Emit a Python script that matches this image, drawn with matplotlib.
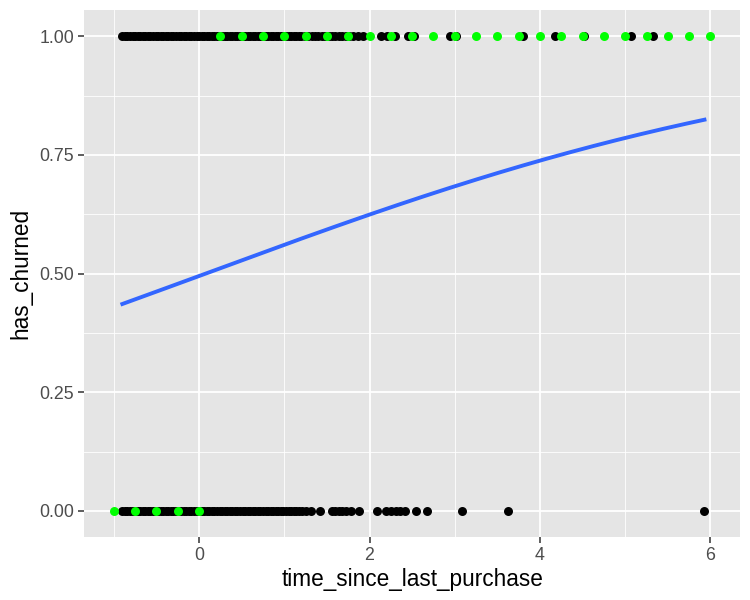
import matplotlib.pyplot as plt
import numpy as np

# observed customers, split by outcome
churned_x = [
    -0.90, -0.87, -0.84, -0.81, -0.78, -0.75, -0.72, -0.69, -0.66, -0.63,
    -0.60, -0.57, -0.54, -0.51, -0.48, -0.45, -0.42, -0.39, -0.36, -0.33,
    -0.30, -0.27, -0.24, -0.21, -0.18, -0.15, -0.12, -0.09, -0.06, -0.03,
    0.00, 0.03, 0.06, 0.09, 0.12, 0.15, 0.18, 0.21, 0.24, 0.27, 0.30,
    0.33, 0.36, 0.39, 0.42, 0.45, 0.48, 0.51, 0.54, 0.57, 0.60, 0.63,
    0.66, 0.69, 0.72, 0.75, 0.78, 0.81, 0.84, 0.87, 0.90, 0.93, 0.96,
    0.99, 1.02, 1.05, 1.08, 1.11, 1.14, 1.17, 1.20, 1.24, 1.28, 1.32,
    1.36, 1.40, 1.44, 1.48, 1.52, 1.56, 1.60, 1.64, 1.68, 1.72, 1.76,
    1.81, 1.86, 1.92, 2.13, 2.20, 2.30, 2.45, 2.52, 2.95, 3.02, 3.80,
    4.18, 4.52, 5.07, 5.33,
]
retained_x = [
    -0.90, -0.87, -0.84, -0.81, -0.78, -0.75, -0.72, -0.69, -0.66, -0.63,
    -0.60, -0.57, -0.54, -0.51, -0.48, -0.45, -0.42, -0.39, -0.36, -0.33,
    -0.30, -0.27, -0.24, -0.21, -0.18, -0.15, -0.12, -0.09, -0.06, -0.03,
    0.00, 0.03, 0.06, 0.09, 0.12, 0.15, 0.18, 0.21, 0.24, 0.27, 0.30,
    0.33, 0.36, 0.39, 0.42, 0.45, 0.48, 0.51, 0.54, 0.57, 0.60, 0.63,
    0.66, 0.69, 0.72, 0.75, 0.78, 0.81, 0.84, 0.87, 0.90, 0.93, 0.96,
    0.99, 1.02, 1.05, 1.08, 1.11, 1.14, 1.17, 1.21, 1.25, 1.31, 1.42,
    1.56, 1.60, 1.64, 1.68, 1.72, 1.78, 1.88, 2.09, 2.19, 2.25, 2.31,
    2.36, 2.42, 2.54, 2.68, 3.09, 3.63, 5.93,
]

# predicted outcome on a grid of explanatory values
grid_x = [
    -1.00, -0.75, -0.50, -0.25, 0.00, 0.25, 0.50, 0.75, 1.00, 1.25, 1.50,
    1.75, 2.00, 2.25, 2.50, 2.75, 3.00, 3.25, 3.50, 3.75, 4.00, 4.25,
    4.50, 4.75, 5.00, 5.25, 5.50, 5.75, 6.00,
]
grid_pred = [
    0, 0, 0, 0, 0, 1, 1, 1, 1, 1, 1, 1, 1, 1, 1, 1, 1, 1, 1, 1, 1, 1,
    1, 1, 1, 1, 1, 1, 1,
]

# logistic fit coefficients
intercept = -0.02
slope = 0.264

x_ticks = [0, 2, 4, 6]
y_ticks = [0.00, 0.25, 0.50, 0.75, 1.00]

plt.rcParams["font.family"] = ["Liberation Sans", "DejaVu Sans"]

fig = plt.figure(figsize=(7.5, 6), dpi=100)
ax = fig.add_axes([0.112, 0.105, 0.875, 0.878])
ax.set_facecolor("#e5e5e5")

ax.scatter(churned_x, np.ones(len(churned_x)), s=42, color="black", zorder=3, linewidths=0)
ax.scatter(retained_x, np.zeros(len(retained_x)), s=42, color="black", zorder=3, linewidths=0)

all_x = churned_x + retained_x
curve_x = np.linspace(min(all_x), max(all_x), 200)
curve_y = 1 / (1 + np.exp(-(intercept + slope * curve_x)))
ax.plot(curve_x, curve_y, color="#3366ff", linewidth=2.8, zorder=4)

ax.scatter(grid_x, grid_pred, s=42, color="#00ff00", zorder=5, linewidths=0)

ax.set_xlim(-1.35, 6.35)
ax.set_ylim(-0.055, 1.055)
ax.set_xticks(x_ticks)
ax.set_yticks(y_ticks)
ax.set_yticklabels([f"{v:.2f}" for v in y_ticks])
ax.set_xticks([-1, 1, 3, 5], minor=True)
ax.set_yticks([0.125, 0.375, 0.625, 0.875], minor=True)

ax.grid(which="major", color="white", linewidth=1.3)
ax.grid(which="minor", color="white", linewidth=0.6)
ax.set_axisbelow(True)
for spine in ax.spines.values():
    spine.set_visible(False)

ax.tick_params(which="major", length=4, width=1.1, color="#333333",
               labelsize=12.8, labelcolor="#4d4d4d", pad=3)
ax.tick_params(which="minor", length=0)

ax.set_xlabel("time_since_last_purchase", fontsize=16.3, labelpad=3)
ax.set_ylabel("has_churned", fontsize=16.3, labelpad=5)

fig.savefig("out.png", dpi=100)
